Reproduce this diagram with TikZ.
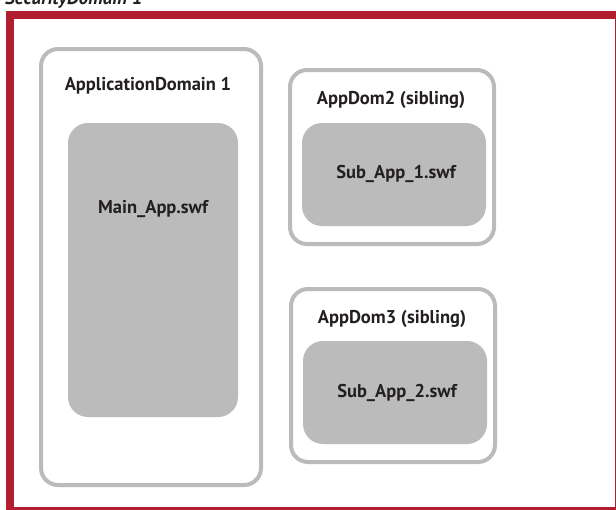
\documentclass[tikz,border=0pt]{standalone}
\usepackage{fontspec}
\setmainfont{PT Sans}
\definecolor{frame}{HTML}{B01E30}
\definecolor{boxgray}{HTML}{BBBBBB}
\definecolor{ink}{HTML}{231F20}
\tikzset{
  outerbox/.style={draw=boxgray, line width=4pt, rounded corners=17pt, fill=white, inner sep=0pt, rectangle},
  innerbox/.style={fill=boxgray, rounded corners=20pt, inner sep=0pt, rectangle},
  lbl/.style={font=\fontsize{18.5}{22}\selectfont\bfseries, text=ink, anchor=base, inner sep=0pt},
}
\begin{document}
\begin{tikzpicture}[x=1pt,y=-1pt]
\useasboundingbox (0,0) rectangle (616,509);
\begin{scope}
\clip (0,0) rectangle (616,509);
\node[lbl, anchor=base west, font=\fontsize{19}{22}\selectfont\bfseries\itshape] (sd) at (5,4) {SecurityDomain 1};
\draw[frame, line width=8pt] (10,15) rectangle (619,511);
\end{scope}
\node[outerbox, minimum width=220pt, minimum height=436pt] (ad1) at (151,267) {};
\node[innerbox, minimum width=170pt, minimum height=294pt] (main) at (153,270) {};
\node[outerbox, minimum width=204pt, minimum height=174pt] (ad2) at (392,157) {};
\node[innerbox, minimum width=184pt, minimum height=103pt] (sub1) at (394,174.5) {};
\node[outerbox, minimum width=204pt, minimum height=173pt] (ad3) at (393,375.5) {};
\node[innerbox, minimum width=184pt, minimum height=103pt] (sub2) at (395,392.5) {};
\node[lbl] (ad1l) at (148,90) {ApplicationDomain 1};
\node[lbl] (mainl) at (153,213) {Main\_App.swf};
\node[lbl] (ad2l) at (391,104) {AppDom2 (sibling)};
\node[lbl] (sub1l) at (396,178) {Sub\_App\_1.swf};
\node[lbl] (ad3l) at (392,323) {AppDom3 (sibling)};
\node[lbl] (sub2l) at (397,397) {Sub\_App\_2.swf};
\end{tikzpicture}
\end{document}
